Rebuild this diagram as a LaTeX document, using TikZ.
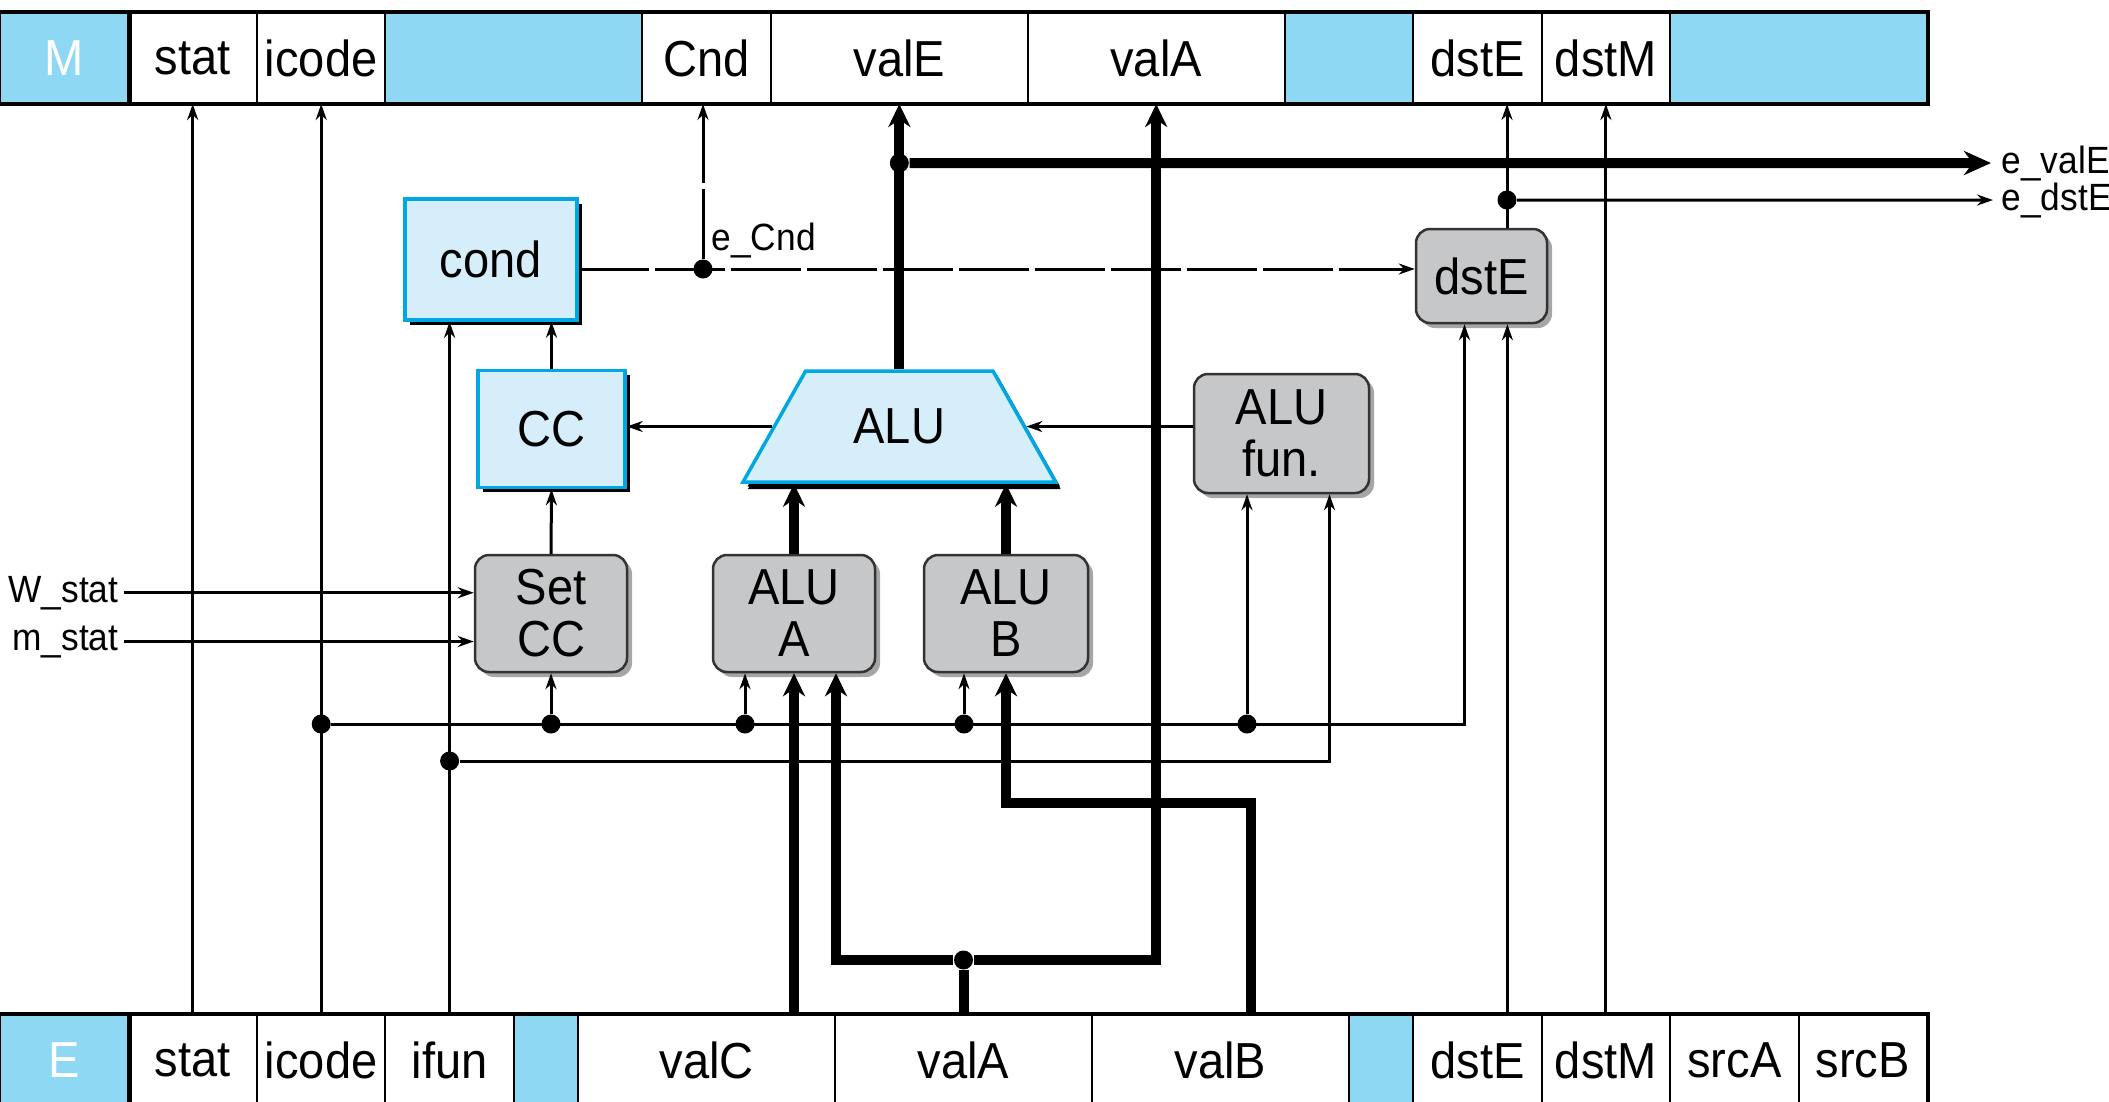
\documentclass[tikz,border=0pt]{standalone}
\usepackage{fontspec}
\setmainfont[FakeStretch=0.93]{Liberation Sans}
\usetikzlibrary{arrows.meta,shapes.geometric,shadows}
\definecolor{regblue}{RGB}{142,216,244}
\definecolor{boxfill}{RGB}{214,238,249}
\definecolor{boxline}{RGB}{0,168,226}
\definecolor{logicgray}{RGB}{198,199,201}
\newcommand{\regfont}{\fontsize{14.4}{14.8}\selectfont}
\newcommand{\lblfont}{\fontsize{10.8}{12}\selectfont}
\tikzset{
  cell/.style={draw, line width=0.2mm, fill=white, minimum height=9mm, minimum width=#1, inner sep=0pt, font=\regfont},
  cell/.default=12.85mm,
  gapcell/.style={cell=#1, fill=regblue},
  gapcell/.default=12.85mm,
  stage/.style={cell, fill=regblue, text=white},
  hw/.style={draw=boxline, line width=0.35mm, fill=boxfill, font=\regfont, drop shadow={fill=black, opacity=1, shadow xshift=0.45mm, shadow yshift=-0.45mm}},
  logic/.style={draw=black!80, line width=0.25mm, fill=logicgray, rounded corners=1.4mm, align=center, inner sep=0pt, font=\regfont, drop shadow={fill=black!35, opacity=1, shadow xshift=0.5mm, shadow yshift=-0.5mm}},
  lbl/.style={inner sep=0pt, font=\lblfont},
  junction/.style={circle, fill, inner sep=0pt, minimum size=1.9mm},
  wire/.style={line width=0.3mm, >={Stealth[length=1.6mm,width=1.1mm]}},
  ctrl/.style={wire, dash pattern=on 7mm off 0.6mm},
  bus/.style={line width=1mm, >={Stealth[length=2.3mm,width=2.2mm]}},
}
\begin{document}
\begin{tikzpicture}[x=0.1mm,y=-0.1mm]
    \useasboundingbox (0,0) rectangle (2109,1101);
    \node[stage] at (64.2,58) (Mlbl) {M};
    \node[cell] at (192.7,58) (Mstat) {stat};
    \node[cell] at (321.2,58) (Micode) {icode};
    \node[gapcell=25.7mm] at (513.9,58) (Mgap1) {};
    \node[cell] at (706.6,58) (MCnd) {Cnd};
    \node[cell=25.7mm] at (899.3,58) (MvalE) {valE};
    \node[cell=25.7mm] at (1156.2,58) (MvalA) {valA};
    \node[gapcell] at (1348.9,58) (Mgap2) {};
    \node[cell] at (1477.4,58) (MdstE) {dstE};
    \node[cell] at (1605.9,58) (MdstM) {dstM};
    \node[gapcell=25.7mm] at (1798.6,58) (Mgap3) {};
    \draw[line width=0.45mm] (Mlbl.north west) rectangle (Mgap3.south east);
    \draw[line width=0.45mm] (Mlbl.north east) -- (Mlbl.south east);
    \node[stage] at (64.2,1060) (Elbl) {E};
    \node[cell] at (192.7,1060) (Estat) {stat};
    \node[cell] at (321.2,1060) (Eicode) {icode};
    \node[cell] at (449.6,1060) (Eifun) {ifun};
    \node[gapcell=6.425mm] at (546.0,1060) (Egap1) {};
    \node[cell=25.7mm] at (706.6,1060) (EvalC) {valC};
    \node[cell=25.7mm] at (963.5,1060) (EvalA) {valA};
    \node[cell=25.7mm] at (1220.5,1060) (EvalB) {valB};
    \node[gapcell=6.425mm] at (1381.1,1060) (Egap2) {};
    \node[cell] at (1477.4,1060) (EdstE) {dstE};
    \node[cell] at (1605.9,1060) (EdstM) {dstM};
    \node[cell] at (1734.3,1060) (EsrcA) {srcA};
    \node[cell] at (1862.8,1060) (EsrcB) {srcB};
    \draw[line width=0.45mm] (Elbl.north west) rectangle (EsrcB.south east);
    \draw[line width=0.45mm] (Elbl.north east) -- (Elbl.south east);
    \node[hw, minimum width=17.2mm, minimum height=12.1mm] at (491,259.5) (cond) {cond};
    \node[hw, minimum width=14.7mm, minimum height=11.7mm] at (551.5,429) (CC) {CC};
    \node[hw, trapezium, trapezium angle=56.8, trapezium stretches=true, minimum width=31.3mm, minimum height=11.1mm, drop shadow={fill=black, opacity=1, shadow xshift=0.5mm, shadow yshift=-0.7mm}] at (899.3,426.5) (ALU) {ALU};
    \node[logic, minimum width=17.5mm, minimum height=11.9mm] at (1281.5,433.5) (ALUfun) {ALU\\fun.};
    \node[logic, minimum width=13.1mm, minimum height=9.4mm] at (1481.5,276) (dstEu) {dstE};
    \node[logic, minimum width=15.2mm, minimum height=11.7mm] at (551,613.5) (SetCC) {Set\\CC};
    \node[logic, minimum width=16.2mm, minimum height=11.7mm] at (794,613.5) (ALUA) {ALU\\A};
    \node[logic, minimum width=16.4mm, minimum height=11.7mm] at (1006,613.5) (ALUB) {ALU\\B};
    \node[lbl, anchor=base east] at (119,602) (Wstat) {W\_stat};
    \node[lbl, anchor=base east] at (119,650) (mstat) {m\_stat};
    \node[lbl, anchor=base west] at (711,250) (eCnd) {e\_Cnd};
    \node[lbl, anchor=base west] at (2001,173) (evalE) {e\_valE};
    \node[lbl, anchor=base west] at (2001,210) (edstE) {e\_dstE};
    \node[junction] at (321.2,724) (jicode) {};
    \node[junction] at (551,724) (jset) {};
    \node[junction] at (745,724) (jaluA) {};
    \node[junction] at (964,724) (jaluB) {};
    \node[junction] at (1247,724) (jfun) {};
    \node[junction] at (449.6,761) (jifun) {};
    \node[junction] at (963.5,960) (jvalA) {};
    \node[junction] at (703,269) (jcnd) {};
    \node[junction] at (899.3,163) (jvalE) {};
    \node[junction] at (1507,200) (jdstE) {};
    \coordinate (bendB) at (1006,803);
    \draw[wire,->] (Estat.north) -- (Mstat.south);
    \draw[wire,->] (Eicode.north) -- (Micode.south);
    \draw[wire,->] (Eifun.north) -- (Eifun.north |- cond.south);
    \draw[wire,->] (EdstM.north) -- (MdstM.south);
    \draw[wire,->] ([xshift=3mm]EdstE.north) -- ([xshift=3mm]EdstE.north |- dstEu.south);
    \draw[wire,->] (jdstE |- dstEu.north) -- (jdstE |- MdstE.south);
    \draw[wire,->] (jdstE) -- ([xshift=-0.8mm]edstE.west);
    \draw[wire,->] (jicode) -| ([xshift=-1.7mm]dstEu.south);
    \draw[wire,->] (jset) -- (SetCC.south);
    \draw[wire,->] (jaluA) -- (jaluA |- ALUA.south);
    \draw[wire,->] (jaluB) -- (jaluB |- ALUB.south);
    \draw[wire,->] (jfun) -- (jfun |- ALUfun.south);
    \draw[wire,->] (jifun) -| ([xshift=4.8mm]ALUfun.south);
    \draw[wire,->] (SetCC.north) -- (CC.south);
    \draw[wire,->] (CC.north) -- (CC.north |- cond.south);
    \draw[wire,->] (ALU.west) -- (CC.east |- ALU.west);
    \draw[wire,->] (ALUfun.west |- ALU.east) -- (ALU.east);
    \draw[wire,->] ([xshift=0.5mm]Wstat.east) -- (Wstat.east -| SetCC.west);
    \draw[wire,->] ([xshift=0.5mm]mstat.east) -- (mstat.east -| SetCC.west);
    \draw[ctrl,->] (cond.east |- jcnd) -- (dstEu.west |- jcnd);
    \draw[ctrl,->] (jcnd) -- (jcnd |- MCnd.south);
    \draw[bus,->] (ALU.north) -- (ALU.north |- MvalE.south);
    \draw[bus,-{Stealth[length=2.7mm,width=2.4mm]}] (jvalE) -- ([xshift=-1mm]evalE.west);
    \draw[bus,->] (ALUA.north) -- (ALUA.north |- ALU.south);
    \draw[bus,->] (ALUB.north) -- (ALUB.north |- ALU.south);
    \draw[bus,->] (ALUA.south |- EvalC.north) -- (ALUA.south);
    \draw[bus] (EvalA.north) -- (jvalA);
    \draw[bus,->] (jvalA) -| ([xshift=4.2mm]ALUA.south);
    \draw[bus,->] (jvalA) -| (MvalA.south);
    \draw[bus,->] ([xshift=3mm]EvalB.north) |- (bendB) -- (ALUB.south);
\end{tikzpicture}
\end{document}
